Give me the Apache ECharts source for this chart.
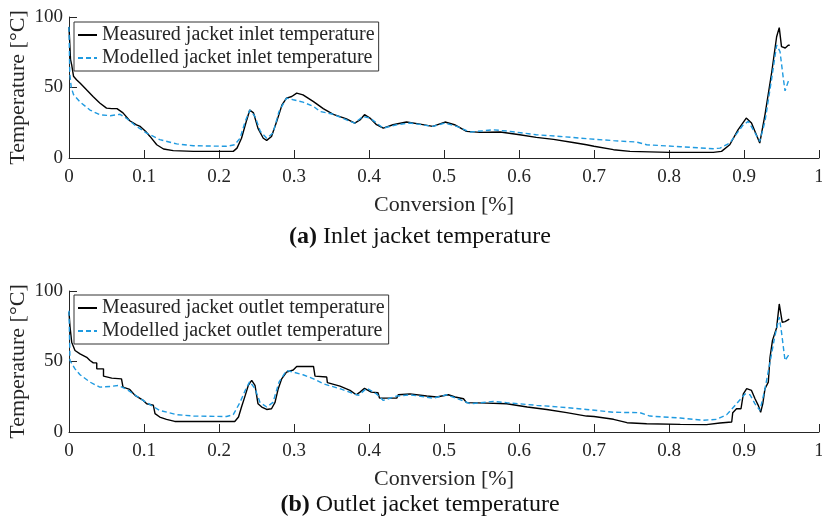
<!DOCTYPE html>
<html>
<head>
<meta charset="utf-8">
<script src="https://cdn.jsdelivr.net/npm/echarts@6/dist/echarts.min.js"></script>
<style>html,body{margin:0;padding:0;background:#fff;}#c{width:822px;height:522px;}</style>
</head>
<body>
<div id="c"></div>
<script>
// ---- Data (conversion fraction, temperature °C) ----
const xTicks = [0,0.1,0.2,0.3,0.4,0.5,0.6,0.7,0.8,0.9,1];
const yTicks = [0,50,100];

const inletMeasX = [0,0.002,0.0036,0.006,0.01,0.015,0.024,0.032,0.041,0.05,0.057,0.064,0.072,0.081,0.09,0.095,0.102,0.108,0.117,0.126,0.139,0.166,0.219,0.224,0.23,0.237,0.241,0.246,0.252,0.259,0.2636,0.27,0.277,0.284,0.29,0.297,0.3036,0.312,0.326,0.339,0.3524,0.37,0.381,0.388,0.394,0.4013,0.41,0.419,0.432,0.45,0.468,0.485,0.5013,0.514,0.53,0.548,0.575,0.601,0.623,0.646,0.672,0.69,0.7,0.726,0.748,0.8,0.859,0.87,0.881,0.892,0.903,0.91,0.921,0.928,0.937,0.9435,0.947,0.95,0.955,0.959,0.961];
const inletMeasT = [93,70,66,58,55.5,53,48,43.6,39,35.4,35,35,32,26.4,23.5,22.4,19,15.3,9.4,6.4,5.2,4.7,4.7,7,14,27,34,32,21,14,12.5,15.3,26,37.7,42.5,43.6,46,44.8,40,35,31,27.8,24.8,27,30.7,28.3,23.6,21.2,23.6,25.5,24,22.4,25.5,23.6,18.9,18.2,18.4,16.5,14.6,13.2,11,9.4,8.3,5.9,4.7,4,4,4.7,9.4,20,28.3,24.8,10.6,30.7,61,86,92.5,79,78,80,80];

const inletModX = [0,0.001,0.003,0.006,0.015,0.028,0.041,0.055,0.068,0.077,0.09,0.1035,0.121,0.1436,0.166,0.21,0.221,0.228,0.235,0.241,0.248,0.255,0.2636,0.272,0.28,0.29,0.299,0.312,0.326,0.3347,0.3524,0.37,0.381,0.392,0.4013,0.419,0.437,0.455,0.485,0.5013,0.517,0.535,0.566,0.588,0.623,0.655,0.69,0.726,0.7568,0.7702,0.815,0.859,0.868,0.881,0.899,0.9058,0.9124,0.921,0.928,0.937,0.9435,0.948,0.9524,0.9547,0.959,0.9604];
const inletModT = [93,60,50,45,39.6,34,30.7,30,31,28,22.4,17.7,13,10,8.7,8.3,9.4,14,26,34,29.5,19,14,17.7,33,42.5,41.3,39.6,36.6,33,31,27,24.8,29.5,28.3,21.2,23.6,24.8,22.4,24.8,22.4,18.4,20,18.9,16.5,15.3,13.7,12.3,11.3,9.4,8,6.6,7,10.6,23.6,26,20,11.8,26,56.6,80,75.5,56.6,47.6,54.2,55.4];

const outletMeasX = [0,0.0013,0.0036,0.008,0.0147,0.0236,0.028,0.0324,0.037,0.037,0.046,0.046,0.057,0.07,0.072,0.072,0.081,0.088,0.099,0.1036,0.1124,0.1147,0.121,0.13,0.141,0.221,0.226,0.23,0.235,0.239,0.2436,0.248,0.252,0.257,0.2636,0.27,0.2747,0.279,0.2836,0.29,0.299,0.3036,0.326,0.328,0.3436,0.3445,0.3613,0.3747,0.383,0.388,0.394,0.403,0.412,0.414,0.437,0.439,0.4547,0.477,0.4902,0.5058,0.5147,0.526,0.53,0.557,0.5836,0.611,0.637,0.6636,0.69,0.7,0.726,0.744,0.7702,0.815,0.85,0.868,0.8836,0.885,0.89,0.896,0.8991,0.9036,0.91,0.9147,0.919,0.9222,0.925,0.928,0.9324,0.9347,0.938,0.9435,0.947,0.949,0.951,0.9547,0.9604];
const outletMeasT = [85,75,63.7,57.8,55.4,53,50.7,49,49,44.8,44.8,39.6,38.2,37.7,37.7,31.8,30.2,26,22.4,20,19,13,10.6,9,7.5,7.5,10.6,17.7,26,33,36.6,33,20,17.7,16,16.5,21,30.7,37.7,42.5,44,46.5,46.5,39.6,39,35,32.5,29.5,26.4,28.3,31,28.3,27.8,24,24,26.4,27,25.5,24.8,26.4,24.8,23.6,20.8,20.5,20,17.7,16,13.7,11.3,11,9,6.6,5.9,5.4,5.2,6.4,7.1,13.7,16.5,16.5,27,30.7,29.5,23.6,18.9,14,20,30.7,35.4,53,65,74,90.8,89.6,77.8,78.3,80];

const outletModX = [0,0.0013,0.008,0.0147,0.028,0.041,0.055,0.066,0.077,0.09,0.1036,0.121,0.1436,0.166,0.21,0.219,0.228,0.235,0.241,0.248,0.2547,0.2636,0.272,0.28,0.29,0.299,0.312,0.326,0.339,0.3613,0.386,0.3969,0.41,0.419,0.437,0.4547,0.4858,0.5036,0.5213,0.5347,0.5658,0.5836,0.6236,0.6547,0.69,0.726,0.7613,0.7747,0.815,0.8458,0.8636,0.877,0.89,0.9013,0.908,0.9147,0.9213,0.928,0.9347,0.9413,0.947,0.95,0.9547,0.959,0.9604];
const outletModT = [86,50.7,44.8,40.6,35.4,31.8,32.3,33,30.2,25.5,20.8,15.3,12.3,11.3,11,12.3,21,29.5,35.8,30.7,21,17.7,21,35.4,43.6,42.5,40.6,37.7,34.2,30.7,26,31,27,22.4,25.5,26.4,24,26.4,23,20,21.7,20.8,18.9,17.7,16,14,13.7,11.3,9.9,8.3,9,12.3,20,27,26.4,20,15.3,30.7,49.5,68.4,81.4,70.8,50.7,54.2,56.6];

const zip = (xs, ys) => xs.map((x, i) => [x, ys[i]]);

const FONT = '"Liberation Serif", "Times New Roman", serif';
const AX = '#262626';
const BLUE = '#1f9ae0';

function xAxis(gi) {
  return {
    gridIndex: gi, type: 'value', min: 0, max: 1, interval: 0.1,
    name: 'Conversion [%]', nameLocation: 'middle', nameGap: 36, nameMoveOverlap: false,
    nameTextStyle: { fontFamily: FONT, fontSize: 22, color: AX },
    axisLine: { show: true, onZero: false, lineStyle: { color: AX, width: 1 } },
    axisTick: { show: true, inside: true, length: 8, lineStyle: { color: AX } },
    axisLabel: { fontFamily: FONT, fontSize: 19, color: AX, margin: 10,
      formatter: v => String(Math.round(v * 10) / 10) },
    splitLine: { show: false }
  };
}
function yAxis(gi) {
  return {
    gridIndex: gi, type: 'value', min: 0, max: 100, interval: 50,
    name: 'Temperature [°C]', nameLocation: 'middle', nameGap: 40, nameRotate: 90,
    nameMoveOverlap: false,
    nameTextStyle: { fontFamily: FONT, fontSize: 22, color: AX },
    axisLine: { show: true, lineStyle: { color: AX, width: 1 } },
    axisTick: { show: true, inside: true, length: 8, lineStyle: { color: AX } },
    axisLabel: { fontFamily: FONT, fontSize: 19, color: AX, margin: 6 },
    splitLine: { show: false }
  };
}
function legend(top, names) {
  return {
    data: names, orient: 'vertical', left: 74, top: top,
    itemWidth: 19, itemHeight: 14, itemGap: 3,
    padding: [3, 4, 3, 3],
    borderColor: '#333', borderWidth: 1, backgroundColor: '#fff',
    itemStyle: { opacity: 0 },
    textStyle: { fontFamily: FONT, fontSize: 20, color: AX, lineHeight: 20 },
    selectedMode: false
  };
}
function line(name, data, xi, color, dashed) {
  return {
    name, type: 'line', xAxisIndex: xi, yAxisIndex: xi, data,
    symbol: 'none', animation: false, z: dashed ? 3 : 2,
    lineStyle: { color, width: 1.4, type: dashed ? [5, 3] : 'solid' },
    itemStyle: { color }
  };
}

const chart = echarts.init(document.getElementById('c'), null, { renderer: 'canvas' });
chart.setOption({
  backgroundColor: '#fff',
  animation: false,
  title: [
    { text: '{b|(a)} Inlet jacket temperature', left: 415, top: 220, textAlign: 'center',
      textStyle: { fontFamily: FONT, fontSize: 24, fontWeight: 'normal', color: '#111',
        rich: { b: { fontFamily: FONT, fontSize: 24, fontWeight: 'bold', color: '#111' } } } },
    { text: '{b|(b)} Outlet jacket temperature', left: 415, top: 488, textAlign: 'center',
      textStyle: { fontFamily: FONT, fontSize: 24, fontWeight: 'normal', color: '#111',
        rich: { b: { fontFamily: FONT, fontSize: 24, fontWeight: 'bold', color: '#111' } } } }
  ],
  grid: [
    { left: 69, right: 3, top: 17, height: 141, outerBoundsMode: 'none', containLabel: false },
    { left: 69, right: 3, top: 291, height: 141, outerBoundsMode: 'none', containLabel: false }
  ],
  xAxis: [xAxis(0), xAxis(1)],
  yAxis: [yAxis(0), yAxis(1)],
  legend: [
    legend(22, ['Measured jacket inlet temperature', 'Modelled jacket inlet temperature']),
    legend(295, ['Measured jacket outlet temperature', 'Modelled jacket outlet temperature'])
  ],
  series: [
    line('Measured jacket inlet temperature', zip(inletMeasX, inletMeasT), 0, '#000', false),
    line('Modelled jacket inlet temperature', zip(inletModX, inletModT), 0, BLUE, true),
    line('Measured jacket outlet temperature', zip(outletMeasX, outletMeasT), 1, '#000', false),
    line('Modelled jacket outlet temperature', zip(outletModX, outletModT), 1, BLUE, true)
  ]
});
</script>
</body>
</html>
